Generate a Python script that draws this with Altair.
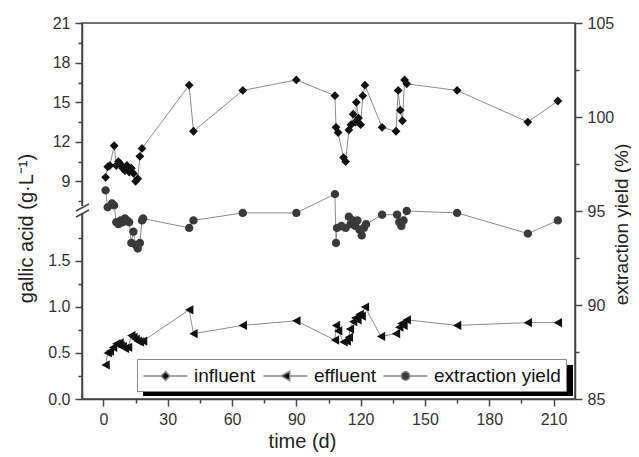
import altair as alt
import pandas as pd

# ---------------- data ----------------
inf_t = [1, 2, 3, 5, 6, 7, 8, 9, 10, 11, 12, 13, 14, 15, 16, 17, 18,
         40, 42, 65, 90,
         108, 108.5, 109.5, 112, 113, 114.5, 115.5, 116.5, 117.5, 118, 119, 120, 121, 122,
         130, 136.5, 137.5, 138.5, 139.5, 140.5, 141.5,
         165, 198, 212]
inf_v = [9.3, 10.1, 10.2, 11.7, 10.2, 10.5, 10.3, 10.0, 9.8, 10.2, 9.7, 10.0, 9.6, 9.0, 9.2, 10.9, 11.5,
         16.3, 12.8, 15.9, 16.7,
         15.5, 13.1, 12.7, 10.8, 10.5, 12.9, 13.3, 14.1, 13.5, 15.0, 13.8, 13.3, 15.5, 16.3,
         13.1, 12.8, 15.9, 14.4, 13.6, 16.7, 16.4,
         15.9, 13.5, 15.1]

eff_t = [1, 2, 3, 4.5, 6, 7.5, 8, 9, 10, 11.5, 13, 14, 15, 16, 17, 18.5,
         40, 42, 65, 90,
         108, 108.5, 109.5, 112, 113.5, 114.5, 115, 116.5, 117.5, 118.5, 119.5, 120.5, 122,
         129.5, 136.5, 138, 139, 140, 141.5,
         165, 198, 212]
eff_v = [0.37, 0.50, 0.52, 0.56, 0.60, 0.61, 0.58, 0.57, 0.55, 0.56, 0.69, 0.67, 0.65, 0.63, 0.62, 0.63,
         0.97, 0.71, 0.80, 0.85,
         0.64, 0.80, 0.74, 0.62, 0.63, 0.67, 0.76, 0.84, 0.88, 0.86, 0.92, 0.90, 1.00,
         0.68, 0.71, 0.78, 0.82, 0.80, 0.86,
         0.80, 0.83, 0.83]

ey_t = [1, 2, 4, 5, 6, 7, 8, 9, 10, 11, 12, 13, 14, 15, 16, 17, 18, 18.5,
        40, 42, 65, 90,
        108, 108.5, 109, 111, 113, 114.5, 115.5, 116.5, 117.5, 118.5, 119.5, 120.5, 121.5, 122.5,
        130, 137, 138, 139, 140, 141.5,
        165, 198, 212]
ey_v = [96.1, 95.2, 95.4, 95.3, 94.4, 94.3, 94.5, 94.4, 94.6, 94.5, 94.4, 93.3, 93.9, 93.2, 93.0, 93.3, 94.5, 94.6,
        94.1, 94.5, 94.9, 94.9,
        95.9, 93.3, 94.1, 94.2, 94.1, 94.7, 94.3, 94.5, 94.2, 94.5, 94.0, 93.7, 94.1, 94.3,
        94.8, 94.8, 94.4, 94.2, 94.5, 95.0,
        94.9, 93.8, 94.5]

SERIES = ["influent", "effluent", "extraction yield"]
COLORS = ["#111111", "#111111", "#3a3a3a"]
# marker shapes (diamond, left triangle, circle) in unit box
MARKERS = [
    "M0,-0.4L0.4,0L0,0.4L-0.4,0Z",
    "M-0.38,0L0.38,-0.42L0.38,0.42Z",
    "M0.38,0A0.38,0.38 0 1,1 -0.38,0A0.38,0.38 0 1,1 0.38,0Z",
]
# legend keys: the same markers with the connecting line on both sides
KEYS = [
    "M-2,0H-0.4M0.4,0H2M0,-0.4L0.4,0L0,0.4L-0.4,0Z",
    "M-2,0H-0.38M0.38,0H2M-0.38,0L0.38,-0.42L0.38,0.42Z",
    "M-2,0H-0.38M0.38,0H2M0.38,0A0.38,0.38 0 1,1 -0.38,0A0.38,0.38 0 1,1 0.38,0Z",
]

X_TICKS = list(range(0, 211, 15))
LEFT_MAJOR = [0, 0.5, 1.0, 1.5, 9, 12, 15, 18, 21]
LEFT_LABELS = ["0.0", "0.5", "1.0", "1.5", "9", "12", "15", "18", "21"]
LEFT_MINOR = [0.25, 0.75, 1.25, 1.75, 7.5, 10.5, 13.5, 16.5, 19.5]
RIGHT_TICKS = [85 + 2.5 * i for i in range(9)]

# ---------------- broken left axis -> common display units (85..105) ----------------
H = 376.0
def disp(v):
    if v <= 3:
        return 85 + v * 92 * 20 / H
    return 85 + (217.7 + (v - 9) * 39.5 / 3) * 20 / H

DISP_EXPR = ("datum.v <= 3 ? 85 + datum.v * 92 * 20 / 376 : "
             "85 + (217.7 + (datum.v - 9) * 39.5 / 3) * 20 / 376")

left_major_pos = [round(disp(v), 5) for v in LEFT_MAJOR]
left_minor_pos = [round(disp(v), 5) for v in LEFT_MINOR]
left_values = sorted(left_major_pos + left_minor_pos)

label_expr = "''"
for p, lab in zip(left_major_pos, LEFT_LABELS):
    label_expr = f"abs(datum.value - {p}) < 0.01 ? '{lab}' : ({label_expr})"
major_test = " || ".join(f"abs(datum.value - {p}) < 0.01" for p in left_major_pos)

rows = []
for name, ts, vs in (("influent", inf_t, inf_v), ("effluent", eff_t, eff_v)):
    for i, (t, v) in enumerate(zip(ts, vs)):
        rows.append({"series": name, "t": t, "v": v, "idx": i})
left_df = pd.DataFrame(rows)
right_df = pd.DataFrame({"series": "extraction yield", "t": ey_t, "v": ey_v, "idx": list(range(len(ey_t)))})

FONT = "Liberation Sans"

x_axis = alt.Axis(values=X_TICKS, labelExpr="datum.value % 30 == 0 ? datum.label : ''",
                  tickSize={"condition": {"test": "datum.value % 30 == 0", "value": 7}, "value": 4},
                  title="time (d)", titleX=220, titleY=42, titleBaseline="middle", titleAnchor="start",
                  titleAlign="center", labelFlush=False)
xenc = alt.X("t:Q", scale=alt.Scale(domain=[-10, 220], nice=False, zero=False), axis=x_axis)

left_axis = alt.Axis(orient="left", values=left_values, labelExpr=label_expr,
                     tickSize={"condition": {"test": major_test, "value": 7}, "value": 4},
                     title="gallic acid (g·L⁻¹)", titleX=-56, titleY=205, titleAngle=270,
                     titleAlign="center", titleBaseline="middle", labelFlush=False)
right_axis = alt.Axis(orient="right", values=RIGHT_TICKS,
                      labelExpr="datum.value % 5 == 0 ? datum.label : ''",
                      tickSize={"condition": {"test": "datum.value % 5 == 0", "value": 7}, "value": 4},
                      title="extraction yield (%)", titleX=46, titleY=201, titleAngle=270,
                      titleAlign="center", titleBaseline="middle", titleFontSize=19,
                      labelFlush=False)

yscale = alt.Scale(domain=[85, 105], nice=False, zero=False)

color_plain = alt.Color("series:N", scale=alt.Scale(domain=SERIES, range=COLORS), legend=None)
shape_plain = alt.Shape("series:N", scale=alt.Scale(domain=SERIES, range=MARKERS), legend=None)

base_left = alt.Chart(left_df).transform_calculate(d=DISP_EXPR)
y_left = alt.Y("d:Q", scale=yscale, axis=left_axis)
line_left = base_left.mark_line(color="#8c8c8c", strokeWidth=1).encode(
    x=xenc, y=y_left, detail="series:N", order="idx:Q")
pts_left = base_left.mark_point(filled=True, size=484, opacity=1).encode(
    x=xenc, y=y_left, color=color_plain, shape=shape_plain)
layer_left = alt.layer(line_left, pts_left)

base_right = alt.Chart(right_df)
y_right = alt.Y("v:Q", scale=yscale, axis=right_axis)
line_right = base_right.mark_line(color="#8c8c8c", strokeWidth=1).encode(
    x=xenc, y=y_right, order="idx:Q")
pts_right = base_right.mark_point(filled=True, size=484, opacity=1).encode(
    x=xenc, y=y_right, color=color_plain, shape=shape_plain)
layer_right = alt.layer(line_right, pts_right)

# legend-only layer (no rows drawn) whose keys carry the grey connecting line
legend = alt.Legend(title=None, orient="none", legendX=55, legendY=336, direction="horizontal",
                    columns=3, symbolSize=484, symbolOffset=11.5, labelFont=FONT, labelFontSize=19,
                    labelColor="#111", labelOffset=16.5, columnPadding=4, padding=5,
                    strokeColor="#888", fillColor="white", cornerRadius=0)
legend_layer = alt.Chart(pd.DataFrame({"series": SERIES})).transform_filter("false").mark_point(
    filled=True, size=484, opacity=1, stroke="#888", strokeWidth=1
).encode(
    x=alt.value(0), y=alt.value(0),
    color=alt.Color("series:N", scale=alt.Scale(domain=SERIES, range=COLORS), legend=legend),
    shape=alt.Shape("series:N", scale=alt.Scale(domain=SERIES, range=KEYS), legend=legend),
)

one = pd.DataFrame({"k": [0]})
shadow = alt.Chart(one).mark_rect(color="black").encode(
    x=alt.value(61), x2=alt.value(491), y=alt.value(342), y2=alt.value(373))
cut = alt.Chart(one).mark_rule(color="white", strokeWidth=5).encode(
    x=alt.value(0), y=alt.value(183), y2=alt.value(190))
slash1 = alt.Chart(one).mark_rule(color="#444", strokeWidth=1.5).encode(
    x=alt.value(-6), x2=alt.value(7), y=alt.value(188), y2=alt.value(181))
slash2 = alt.Chart(one).mark_rule(color="#444", strokeWidth=1.5).encode(
    x=alt.value(-6), x2=alt.value(7), y=alt.value(194), y2=alt.value(187))

chart = alt.layer(shadow, layer_left, layer_right, legend_layer, cut, slash1, slash2).resolve_scale(
    y="independent", color="independent", shape="independent"
).properties(
    width=493, height=376,
    autosize=alt.AutoSizeParams(type="none"),
    padding={"left": 74, "top": 15, "right": 56, "bottom": 58},
).configure_view(
    stroke="#444", strokeWidth=1.5
).configure_axis(
    grid=False, domainColor="#444", domainWidth=1.5, tickColor="#444", tickWidth=1.5,
    labelFont=FONT, labelFontSize=16, labelColor="#333", labelPadding=5, labelOverlap=False,
    titleFont=FONT, titleFontSize=20, titleFontWeight="normal", titleColor="#222"
)

chart.save("out.html", embed_options={"renderer": "svg", "actions": False})
